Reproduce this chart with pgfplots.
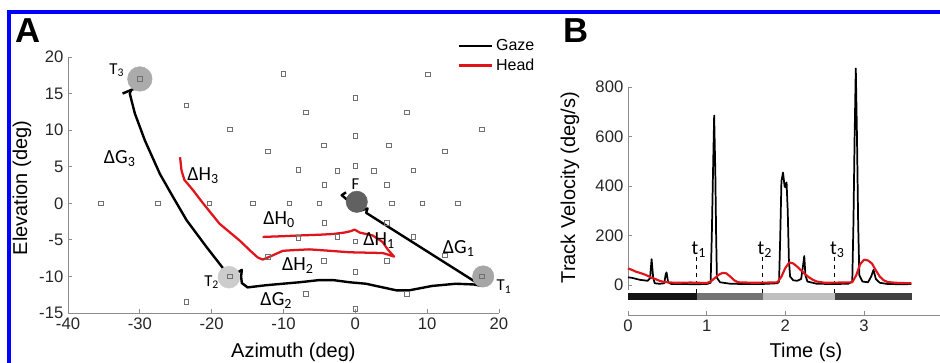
\documentclass[border=0pt]{standalone}
\usepackage{pgfplots}
\pgfplotsset{compat=1.18}
\usepackage{fontspec}
\setmainfont{Liberation Sans}
\newfontfamily\carl{Carlito}
\definecolor{axgray}{HTML}{8C8C8C}
\definecolor{sqgray}{HTML}{707070}
\definecolor{hred}{HTML}{E0151B}
\newcommand{\tk}{\fontsize{12.5}{14}\selectfont}
\newcommand{\lb}{\fontsize{15}{17}\selectfont}
\newcommand{\dl}{\carl\fontsize{15}{17}\selectfont}
\begin{document}
\begin{tikzpicture}
\useasboundingbox (0pt,0pt) rectangle (705pt,272.25pt);
\draw[blue, line width=3pt] (6.75pt,-20pt) -- (6.75pt,263.25pt) -- (720pt,263.25pt);
\node[font=\fontsize{26}{28}\selectfont\bfseries] at (21pt,249.4pt) {A};
\node[font=\fontsize{26}{28}\selectfont\bfseries] at (432pt,249.4pt) {B};
% ---------------- Panel A
\begin{axis}[
  at={(51pt,37.5pt)}, anchor=south west,
  width=323.25pt, height=192pt, scale only axis,
  xmin=-40, xmax=20, ymin=-15, ymax=20,
  axis x line*=bottom, axis y line*=left,
  axis line style={axgray, line width=0.7pt},
  xtick={-40,-30,...,20}, ytick={-15,-10,...,20},
  tick align=inside, major tick length=3pt,
  tick style={axgray, line width=0.6pt},
  ticklabel style={font=\tk, text=black!85},
  /pgf/number format/assume math mode=true,
  clip=false,
  xlabel={Azimuth (deg)}, ylabel={Elevation (deg)},
  xlabel style={at={(axis description cs:0.523,-0.152)}, anchor=center, font=\lb},
  ylabel style={at={(axis description cs:-0.107,0.488)}, anchor=center, font=\lb},
  legend style={at={(axis cs:14.2,22.8)}, anchor=north west, draw=none, fill=none,
    font=\fontsize{12}{13.5}\selectfont, inner sep=0pt, row sep=0.5pt},
  legend cell align=left,
  legend image code/.code={\draw[#1] (0pt,0pt) -- (25pt,0pt);},
]
\addlegendimage{black, line width=1.9pt}
\addlegendentry{Gaze}
\addlegendimage{hred, line width=1.9pt}
\addlegendentry{Head}
% target circles
\addplot[forget plot, only marks, color=black!33, mark=*, mark size=9.2pt, mark options={fill=black!33, draw=black!33}] coordinates {(-30,17)};
\addplot[forget plot, only marks, color=black!20, mark=*, mark size=8.2pt, mark options={fill=black!20, draw=black!20}] coordinates {(-17.6,-10.1)};
\addplot[forget plot, only marks, color=black!35, mark=*, mark size=8pt, mark options={fill=black!35, draw=black!35}] coordinates {(17.8,-10.0)};
% small target squares
\addplot[forget plot, only marks, color=sqgray, mark=square, mark size=1.7pt, mark options={draw=sqgray, line width=0.55pt}] coordinates {
(-30,17) (-23.5,13.4) (-10,17.7) (10.1,17.6) (0,14.4) (-6.9,12.4) (7.2,12.4)
(-17.5,10.1) (17.6,10.1) (0,9.2) (-12.2,7.1) (12.5,7.1) (-4.4,7.9) (4.7,7.9)
(-7.9,4.6) (8.1,4.5) (-2.5,4.4) (0,5.1) (2.6,4.4) (-4.3,2.5) (4.4,2.5)
(-35.4,0) (-27.5,0) (-20.3,0) (-14.3,0) (-9.2,0) (-5,0) (5.1,0) (9.3,0) (14.3,0)
(-4.3,-2.7) (4.4,-2.7) (-7.9,-4.7) (-2.5,-4.6) (0,-5.2) (8.1,-4.6)
(-12.2,-7.3) (-4.4,-7.9) (4.4,-7.9) (12.5,-7.1) (0,-9.4)
(-17.5,-10) (17.6,-10) (-23.5,-13.5) (-6.9,-12.4) (7.2,-12.4) (0,-14.4)};
% fixation F
\addplot[forget plot, only marks, color=black!62, mark=*, mark size=8pt, mark options={fill=black!62, draw=black!62}] coordinates {(0.2,0.2)};
% head trace
\addplot[forget plot, hred, line width=1.7pt, line join=round] coordinates {
(-12.9,-4.6) (-10,-4.5) (-7.8,-4.4) (-5,-4.3) (-3.1,-4.2) (-1.5,-4.0) (-0.6,-3.8) (-0.1,-3.6)
(0.6,-4.0) (1.5,-4.2) (2.4,-4.4) (3.2,-4.9) (3.8,-5.3) (4.5,-6.3) (5.4,-7.3)
(4.5,-7.0) (3.8,-6.8) (1.5,-6.75) (-0.8,-6.7) (-3.5,-6.5) (-6.4,-6.3) (-8.5,-6.4)
(-10.1,-6.5) (-11.9,-7.3) (-12.9,-7.7) (-13.6,-7.4) (-14.5,-6.6) (-16.1,-5.1)
(-18.9,-2.8) (-21.2,0) (-22.6,1.8) (-23.8,3.2) (-24.2,4.5) (-24.4,6.3)};
% gaze trace
\addplot[forget plot, black, line width=1.8pt, line join=round] coordinates {
(-1.3,1.5) (-1.9,1.1) (-1.4,0.7) (-0.4,-0.2) (0.7,-1.0) (1.7,-0.7) (1.5,-1.3)
(17.6,-11.3) (16.5,-11.1) (14.0,-11.0) (10.7,-11.3) (7.5,-11.9) (5.7,-11.9)
(4.3,-11.6) (2.4,-11.2) (1.5,-11.0) (-0.8,-10.8) (-3.1,-10.5) (-5.0,-10.5)
(-7.8,-10.8) (-12.4,-11.2) (-15.0,-11.5) (-15.8,-10.9) (-15.9,-10.0) (-15.8,-9.1)
(-16.6,-9.6) (-17.8,-10.1) (-18.4,-8.9) (-20.7,-6.0) (-23.5,-2.3) (-25.4,0.9)
(-27.2,4.0) (-29.3,8.6) (-30.7,12.3) (-31.4,15.0) (-31.2,15.5) (-30.3,15.8) (-29.6,16.1)};
\addplot[forget plot, black, line width=1.8pt] coordinates {(-32.4,15.0) (-31.2,15.5)};
% labels
\node[font=\carl\fontsize{12.5}{14}\selectfont] at (axis cs:-33.2,18.2) {T\textsubscript{3}};
\node[font=\carl\fontsize{12.5}{14}\selectfont] at (axis cs:-20.0,-10.8) {T\textsubscript{2}};
\node[font=\carl\fontsize{12.5}{14}\selectfont] at (axis cs:20.7,-11.4) {T\textsubscript{1}};
\node[font=\carl\fontsize{12.5}{14}\selectfont] at (axis cs:0,2.6) {F};
\node[font=\dl] at (axis cs:-32.8,6.1) {ΔG\textsubscript{3}};
\node[font=\dl] at (axis cs:-21.2,3.8) {ΔH\textsubscript{3}};
\node[font=\dl] at (axis cs:-10.6,-2.2) {ΔH\textsubscript{0}};
\node[font=\dl] at (axis cs:3.3,-5.1) {ΔH\textsubscript{1}};
\node[font=\dl] at (axis cs:14.4,-6.2) {ΔG\textsubscript{1}};
\node[font=\dl] at (axis cs:-8.0,-8.5) {ΔH\textsubscript{2}};
\node[font=\dl] at (axis cs:-11.0,-13.3) {ΔG\textsubscript{2}};
\end{axis}
% ---------------- Panel B
\begin{axis}[
  at={(471pt,36pt)}, anchor=south west,
  width=233.7pt, height=171pt, scale only axis,
  xmin=0, xmax=3.96, ymin=-120, ymax=800,
  axis x line*=bottom, axis y line*=left,
  axis line style={axgray, line width=0.7pt},
  y axis line style={draw=none},
  xtick={0,1,2,3}, ytick={0,200,...,800},
  tick align=inside, major tick length=3pt,
  tick style={axgray, line width=0.6pt},
  ticklabel style={font=\tk, text=black!85},
  /pgf/number format/assume math mode=true,
  clip=false,
  xlabel={Time (s)}, ylabel={Track Velocity (deg/s)},
  xlabel style={at={(axis description cs:0.571,-0.162)}, anchor=center, font=\lb},
  ylabel style={at={(axis description cs:-0.186,0.559)}, anchor=center, font=\lb},
]
\draw[axgray, line width=0.7pt] (axis cs:0,-20) -- (axis cs:0,800);
% epoch bars
\addplot[black!92, line width=5.25pt] coordinates {(0,-45) (0.873,-45)};
\addplot[black!55, line width=5.25pt] coordinates {(0.873,-45) (1.71,-45)};
\addplot[black!25, line width=5.25pt] coordinates {(1.71,-45) (2.63,-45)};
\addplot[black!75, line width=5.25pt] coordinates {(2.63,-45) (3.605,-45)};
% epoch markers
\addplot[black, dashed, line width=0.8pt] coordinates {(0.873,114) (0.873,-31)};
\addplot[black, dashed, line width=0.8pt] coordinates {(1.71,114) (1.71,-31)};
\addplot[black, dashed, line width=0.8pt] coordinates {(2.63,114) (2.63,-31)};
\node[font=\dl] at (axis cs:0.90,142) {t\textsubscript{1}};
\node[font=\dl] at (axis cs:1.74,142) {t\textsubscript{2}};
\node[font=\dl] at (axis cs:2.66,142) {t\textsubscript{3}};
% gaze velocity
\addplot[black, line width=1.3pt, line join=round] coordinates {
(0,32) (0.05,30) (0.1,26) (0.15,22) (0.2,20) (0.25,18) (0.28,28) (0.30,105) (0.32,30)
(0.34,8) (0.4,6) (0.46,8) (0.48,45) (0.49,52) (0.51,12) (0.55,5) (0.7,5) (0.85,4)
(1.0,5) (1.05,10) (1.065,200) (1.08,450) (1.095,685) (1.11,450) (1.12,200) (1.13,30)
(1.17,12) (1.3,6) (1.5,5) (1.7,5) (1.9,8) (1.92,15) (1.935,200) (1.95,420) (1.97,455)
(1.99,400) (2.0,395) (2.015,415) (2.03,300) (2.045,100) (2.06,35) (2.1,20) (2.15,18)
(2.2,25) (2.225,80) (2.24,118) (2.255,40) (2.28,15) (2.4,6) (2.6,5) (2.8,6) (2.85,15)
(2.865,250) (2.88,600) (2.895,875) (2.91,600) (2.925,250) (2.94,40) (2.98,15)
(3.05,12) (3.09,35) (3.12,62) (3.15,25) (3.2,10) (3.3,5) (3.5,4) (3.6,5)};
% head velocity
\addplot[hred, line width=1.6pt, line join=round] coordinates {
(0,68) (0.05,62) (0.1,55) (0.15,50) (0.2,45) (0.25,38) (0.3,30) (0.35,25) (0.4,18)
(0.45,14) (0.5,12) (0.6,10) (0.8,11) (1.0,9) (1.05,15) (1.1,28) (1.15,42) (1.2,50)
(1.25,48) (1.3,35) (1.35,20) (1.4,12) (1.6,10) (1.8,11) (1.9,12) (1.95,35) (2.0,70)
(2.05,92) (2.1,88) (2.15,75) (2.2,60) (2.25,45) (2.3,32) (2.35,22) (2.4,15) (2.5,10)
(2.7,11) (2.85,12) (2.9,40) (2.95,85) (3.0,103) (3.05,100) (3.1,88) (3.15,60)
(3.2,35) (3.25,20) (3.3,13) (3.4,10) (3.6,8)};
\end{axis}
\end{tikzpicture}
\end{document}
